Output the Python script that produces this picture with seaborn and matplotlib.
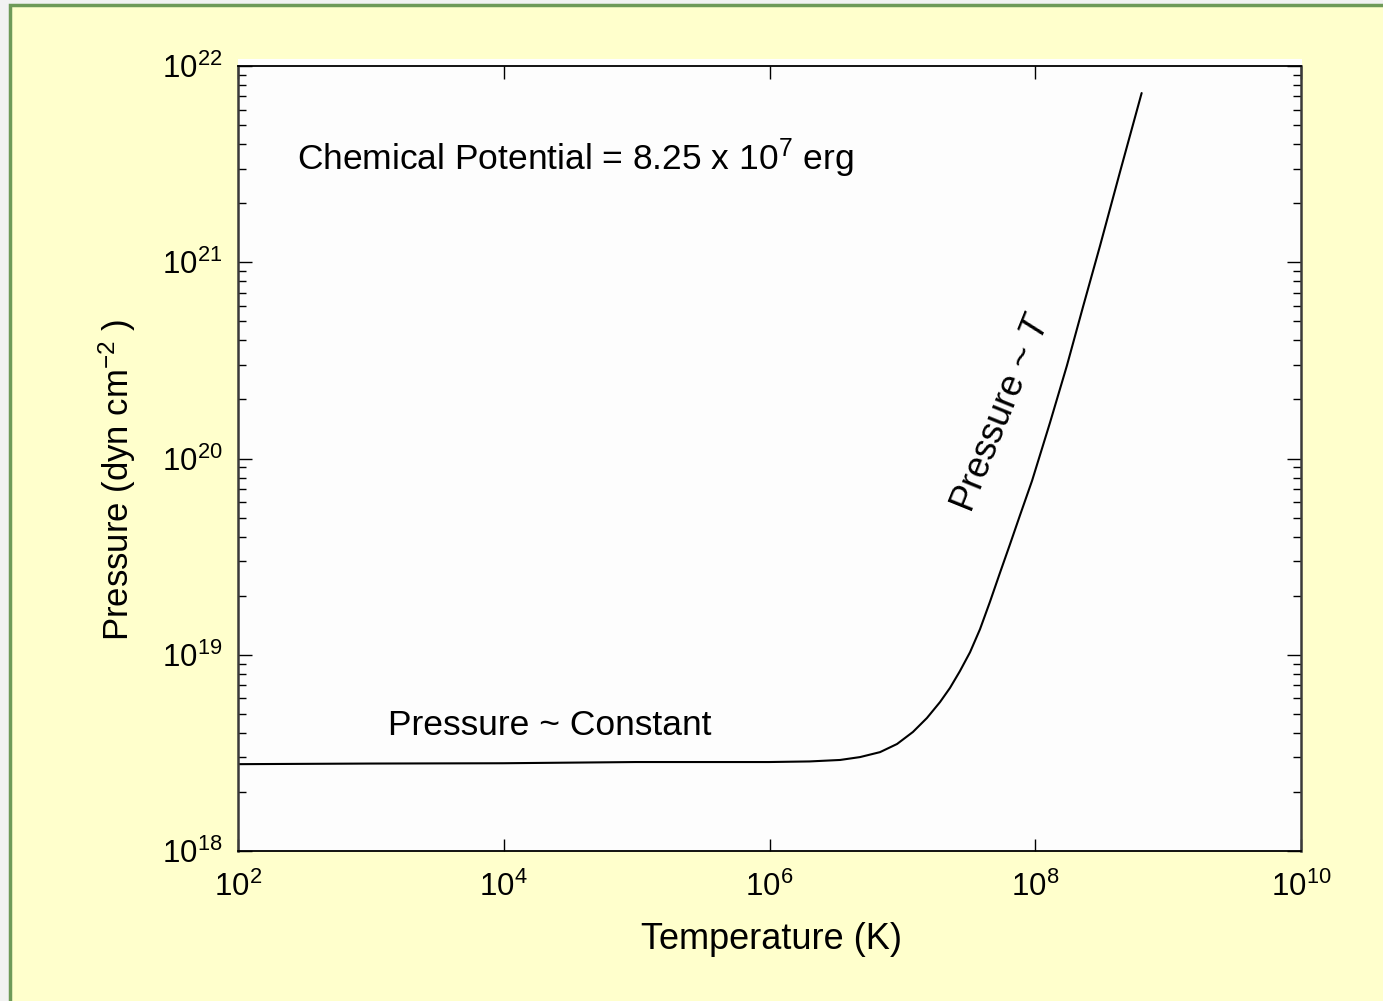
import matplotlib
matplotlib.use("Agg")
import matplotlib.pyplot as plt
from matplotlib.patches import Rectangle
from matplotlib.ticker import FixedLocator, FixedFormatter, LogLocator, NullLocator, NullFormatter
import seaborn as sns
import pandas as pd

# ---- data ----
temperature_K = [1.0e2, 9.84e2, 9.86e3, 9.89e4, 9.91e5, 2.0e6, 3.40e6, 4.80e6, 6.79e6, 9.12e6,
                 1.20e7, 1.53e7, 1.92e7, 2.28e7, 2.71e7, 3.23e7, 3.84e7, 4.56e7, 5.42e7,
                 6.45e7, 7.67e7, 9.46e7, 1.29e8, 1.73e8, 2.29e8, 3.07e8, 4.34e8, 6.32e8]
pressure = [2.77e18, 2.79e18, 2.80e18, 2.84e18, 2.84e18, 2.86e18, 2.91e18, 3.01e18, 3.19e18, 3.51e18,
            4.04e18, 4.76e18, 5.74e18, 6.77e18, 8.25e18, 1.03e19, 1.35e19, 1.86e19, 2.61e19,
            3.65e19, 5.13e19, 7.70e19, 1.52e20, 2.97e20, 5.94e20, 1.21e21, 2.88e21, 7.28e21]

x_ticks = [1e2, 1e4, 1e6, 1e8, 1e10]
x_tick_labels = ["$10^{2}$", "$10^{4}$", "$10^{6}$", "$10^{8}$", "$10^{10}$"]
y_ticks = [1e18, 1e19, 1e20, 1e21, 1e22]
y_tick_labels = ["$10^{18}$", "$10^{19}$", "$10^{20}$", "$10^{21}$", "$10^{22}$"]

x_label = "Temperature (K)"
y_label = "Pressure (dyn cm$^{-2}$ )"
annot_mu = "Chemical Potential = 8.25 x 10$^{7}$ erg"
annot_const = "Pressure ~ Constant"
annot_T = "Pressure ~ $T$"

df = pd.DataFrame({"T": temperature_K, "P": pressure})

# ---- style ----
sns.set_style("ticks")
plt.rcParams["font.family"] = ["Liberation Sans", "DejaVu Sans"]
plt.rcParams["mathtext.fontset"] = "custom"
plt.rcParams["mathtext.rm"] = "Liberation Sans"
plt.rcParams["mathtext.it"] = "Liberation Sans:italic"
plt.rcParams["mathtext.bf"] = "Liberation Sans:bold"
for k in ["text.color", "axes.labelcolor", "xtick.color", "ytick.color"]:
    plt.rcParams[k] = "black"

W, H = 1383, 1001
fig = plt.figure(figsize=(W / 100, H / 100), dpi=100)
fig.patch.set_facecolor("#F2F2F2")
# slide panel
fig.add_artist(Rectangle((10 / W, -0.01), 1.02, 1 - 5 / H + 0.01, transform=fig.transFigure,
                         facecolor="#FFFFCC", edgecolor="#6E9A58", linewidth=2.5, zorder=-10))
# white strip above plot box
fig.add_artist(Rectangle((238 / W, 1 - 66 / H), (1302 - 238) / W, 7 / H, transform=fig.transFigure,
                         facecolor="white", edgecolor="none", zorder=-9))

ax = fig.add_axes([238 / W, 1 - 851 / H, (1301 - 238) / W, (851 - 66) / H])
ax.set_zorder(1)
ax.set_facecolor("#FDFDFD")

sns.lineplot(data=df, x="T", y="P", ax=ax, color="black", linewidth=1.5,
             sort=False, estimator=None)

ax.set_xscale("log")
ax.set_yscale("log")
ax.set_xlim(1e2, 1e10)
ax.set_ylim(1e18, 1e22)

ax.xaxis.set_major_locator(FixedLocator(x_ticks))
ax.xaxis.set_major_formatter(FixedFormatter(x_tick_labels))
ax.xaxis.set_minor_locator(NullLocator())
ax.yaxis.set_major_locator(FixedLocator(y_ticks))
ax.yaxis.set_major_formatter(FixedFormatter(y_tick_labels))
ax.yaxis.set_minor_locator(LogLocator(base=10, subs=range(2, 10), numticks=20))
ax.yaxis.set_minor_formatter(NullFormatter())

ax.tick_params(axis="both", which="both", direction="in", top=True, right=True, colors="black")
ax.tick_params(axis="x", which="major", length=9, width=1.0, labelsize=22.5, pad=15)
ax.tick_params(axis="y", which="major", length=10, width=1.0, labelsize=22.5, pad=11)
ax.tick_params(axis="y", which="minor", length=6, width=1.0)

for s in ["top", "bottom"]:
    ax.spines[s].set_color("black")
    ax.spines[s].set_linewidth(1.3)
for s in ["left", "right"]:
    ax.spines[s].set_color("#3A3A3A")
    ax.spines[s].set_linewidth(1.8)

ax.set_xlabel(x_label, fontsize=26, va="top")
ax.set_ylabel(y_label, fontsize=25)
ax.xaxis.set_label_coords(0.502, -0.090)
ax.yaxis.set_label_coords(-0.094, 0.473)

ax.text(2.78e2, 2.95e21, annot_mu, fontsize=25.5, ha="left", va="baseline")
ax.text(1.346e3, 3.9e18, annot_const, fontsize=25.5, ha="left", va="baseline")
ax.text(5.6e7, 1.71e20, annot_T, fontsize=26, ha="center", va="center",
        rotation=68, rotation_mode="anchor")

fig.savefig("out.png", dpi=100, facecolor=fig.get_facecolor())
